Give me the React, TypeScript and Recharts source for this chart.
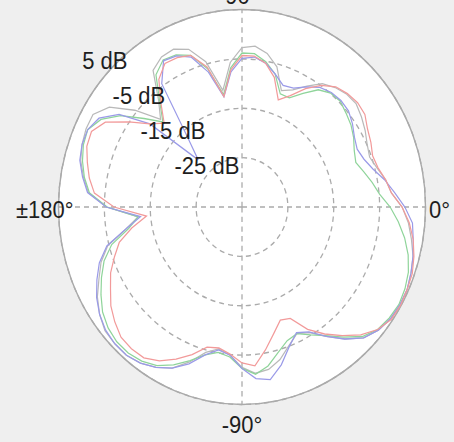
import React from 'react';
import { RadarChart, Radar, PolarGrid, PolarAngleAxis, PolarRadiusAxis } from 'recharts';

// Azimuth angles in degrees (counter-clockwise from 0°), 5° steps
const ANGLES = [
  0, 5, 10, 15, 20, 25, 30, 35, 40, 45, 50, 55,
  60, 65, 70, 75, 80, 85, 90, 95, 100, 105, 110, 115,
  120, 125, 130, 135, 140, 145, 150, 155, 160, 165, 170, 175,
  180, 185, 190, 195, 200, 205, 210, 215, 220, 225, 230, 235,
  240, 245, 250, 255, 260, 265, 270, 275, 280, 285, 290, 295,
  300, 305, 310, 315, 320, 325, 330, 335, 340, 345, 350, 355,
];

// Gain patterns in dB
const GREY_DB = [
  -2.3, -3.2, -4.5, -5.4, -4.9, -4.0, -3.2, -2.5, -2.7, -3.4, -4.5, -6.7,
  -8.8, -9.9, -5.6, -3.4, -2.3, -2.7, -5.6, -11.0, -4.5, -1.0, 0.3, 0.1,
  -1.2, -6.7, -9.9, -4.5, 0.3, 2.5, 2.5, 2.1, 1.4, 0.1, -1.4, -5.4,
  -12.3, -9.3, -4.7, -2.3, -0.6, 1.4, 2.9, 4.0, 4.2, 4.2, 3.6, 2.5,
  1.0, -1.6, -4.5, -5.8, -4.9, -2.5, -1.2, -1.6, -3.0, -5.1, -6.7, -5.6,
  -3.0, -0.1, 2.5, 3.8, 4.5, 4.7, 4.7, 4.2, 3.6, 2.5, 1.4, -0.1,
];

const GREEN_DB = [
  -4.9, -6.2, -7.5, -8.6, -8.0, -6.9, -6.0, -5.4, -4.7, -4.9, -6.0, -8.4,
  -10.6, -10.6, -7.1, -5.1, -3.8, -3.8, -6.7, -11.9, -6.0, -2.3, -1.0, -0.6,
  -2.3, -7.1, -10.6, -7.1, -2.7, 0.5, 2.1, 1.8, 1.0, -0.1, -1.6, -5.6,
  -12.3, -9.9, -5.6, -3.0, -1.2, 0.5, 2.1, 3.1, 3.6, 3.6, 3.1, 2.1,
  0.3, -1.9, -4.0, -5.1, -4.5, -2.3, -1.0, -2.3, -4.5, -6.2, -6.7, -5.1,
  -3.2, -0.6, 2.1, 3.6, 4.2, 4.5, 4.2, 3.6, 2.5, 1.0, -0.8, -2.7,
];

const BLUE_DB = [
  -1.6, -3.4, -5.4, -6.7, -7.3, -6.7, -5.6, -4.7, -4.5, -4.7, -5.4, -6.9,
  -8.4, -8.8, -7.1, -5.4, -4.5, -4.9, -7.5, -12.3, -6.7, -2.7, -1.2, -0.8,
  -4.5, -16.5, -21.5, -8.8, -2.3, 1.0, 2.1, 2.1, 1.6, 0.3, -1.2, -5.4,
  -12.8, -9.3, -4.5, -1.9, -0.1, 1.6, 2.9, 3.8, 4.2, 4.2, 3.6, 2.5,
  1.0, -1.2, -4.0, -5.6, -4.9, -2.3, -0.1, 0.5, -1.9, -4.9, -6.9, -5.8,
  -3.0, -0.1, 2.5, 3.8, 4.5, 4.7, 4.7, 4.2, 3.6, 2.9, 2.3, 0.5,
];

const RED_DB = [
  -2.3, -3.2, -4.3, -4.7, -4.0, -3.4, -2.3, -2.1, -2.5, -3.2, -4.9, -7.3,
  -10.1, -11.9, -7.8, -5.4, -4.3, -4.3, -7.1, -12.3, -5.6, -2.3, -1.6, -1.4,
  -3.4, -7.5, -11.0, -8.8, -4.9, -0.6, 1.2, 1.0, -0.1, -1.2, -2.7, -7.1,
  -14.1, -10.6, -7.3, -5.4, -3.4, -1.9, -0.1, 1.2, 2.3, 2.5, 2.3, 1.0,
  -1.0, -3.2, -5.6, -6.0, -5.1, -3.4, -2.7, -5.6, -8.4, -10.6, -10.1, -6.4,
  -3.6, -1.0, 1.6, 3.6, 4.7, 4.9, 4.7, 4.5, 3.8, 2.9, 1.6, -0.1,
];

// Radial scale (dB) and its ring labels
const RADIUS_DOMAIN = [-35, 5];
const RADIUS_TICKS = [-35, -25, -15, -5, 5];

// Compass labels for the cardinal directions
const ANGLE_LABELS: Record<number, string> = {
  0: '0\u00B0',
  90: '90\u00B0',
  180: '\u00B1180\u00B0',
  270: '-90\u00B0',
};

const data = ANGLES.map((angle, i) => ({
  angle,
  grey: GREY_DB[i],
  green: GREEN_DB[i],
  blue: BLUE_DB[i],
  red: RED_DB[i],
}));

const W = 454;
const SY = 1.076;
const H = 411;
const CX = 242;
const CY = 192.4;
const R = 183.5;
const FONT = "'Liberation Sans', Arial, Helvetica, sans-serif";
const TEXT = '#1e1e1e';

function RadiusTick(props: any) {
  const { x, y, payload } = props;
  if (payload.value === -35) return <g />;
  const r = Math.hypot(x - CX, y - CY);
  const dx = -1 - 0.035 * r;
  return (
    <text x={x + dx} y={y + 1.9} textAnchor="middle" fontSize={22} fontFamily={FONT} fill={TEXT}>
      {`${payload.value} dB`}
    </text>
  );
}

function AngleTick(props: any) {
  const { payload } = props;
  const label = ANGLE_LABELS[payload.value];
  if (!label) return <g />;
  let x = CX;
  let y = CY;
  let anchor: 'start' | 'middle' | 'end' = 'middle';
  if (payload.value === 0) {
    x = CX + R + 3.5;
    y = CY + 10.5;
    anchor = 'start';
  } else if (payload.value === 180) {
    x = CX - R + 15;
    y = CY + 10.5;
    anchor = 'end';
  } else if (payload.value === 90) {
    y = CY - R - 5;
  } else {
    y = CY + R + 26.5;
  }
  return (
    <text x={x} y={y} textAnchor={anchor} fontSize={22} fontFamily={FONT} fill={TEXT}>
      {label}
    </text>
  );
}

export default function App() {
  return (
    <div
      style={{
        position: 'absolute',
        left: 0,
        top: 0,
        width: W,
        height: 442,
        background: '#efefef',
        overflow: 'hidden',
      }}
    >
      <div
        style={{
          position: 'relative',
          width: W,
          height: H,
          transform: `scaleY(${SY})`,
          transformOrigin: '0 0',
        }}
      >
        <svg width={W} height={H} style={{ position: 'absolute', left: 0, top: 0 }}>
          <circle cx={CX} cy={CY} r={R} fill="#ffffff" stroke="#a9a9a9" strokeWidth={1.4} />
        </svg>
        <div style={{ position: 'absolute', left: 0, top: 0 }}>
          <RadarChart
            width={W}
            height={H}
            data={data}
            cx={CX}
            cy={CY}
            outerRadius={R}
            startAngle={0}
            endAngle={360}
            margin={{ top: 0, right: 0, bottom: 0, left: 0 }}
          >
            <PolarGrid
              gridType="circle"
              polarAngles={[0, 90, 180, 270]}
              stroke="#ababab"
              strokeWidth={1.3}
              strokeDasharray="5 4"
            />
            <PolarAngleAxis
              dataKey="angle"
              tick={AngleTick}
              tickLine={false}
              axisLine={false}
            />
            <PolarRadiusAxis
              type="number"
              angle={135}
              domain={RADIUS_DOMAIN}
              ticks={RADIUS_TICKS}
              tickCount={5}
              allowDataOverflow
              axisLine={false}
              tickLine={false}
              tick={RadiusTick}
            />
            <Radar dataKey="grey" stroke="#b9b9b9" strokeWidth={1.2} fill="none" fillOpacity={0} dot={false} isAnimationActive={false} />
            <Radar dataKey="green" stroke="#8fd49a" strokeWidth={1.2} fill="none" fillOpacity={0} dot={false} isAnimationActive={false} />
            <Radar dataKey="blue" stroke="#9a9ae8" strokeWidth={1.2} fill="none" fillOpacity={0} dot={false} isAnimationActive={false} />
            <Radar dataKey="red" stroke="#f29a9a" strokeWidth={1.2} fill="none" fillOpacity={0} dot={false} isAnimationActive={false} />
          </RadarChart>
        </div>
      </div>
    </div>
  );
}
